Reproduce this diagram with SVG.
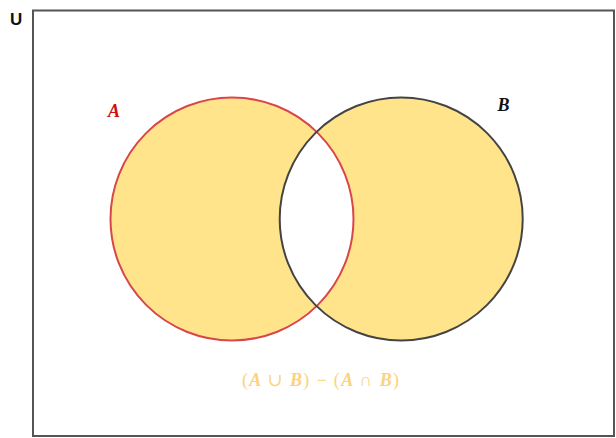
<svg xmlns="http://www.w3.org/2000/svg" width="616" height="438" viewBox="0 0 616 438">
<style>
.math{font-family:"Liberation Serif","DejaVu Serif",serif;font-style:italic;font-weight:bold;font-size:18px}
.sym{font-style:normal;font-weight:normal}
</style>
<rect width="616" height="438" fill="#ffffff"/>
<g id="universe">
<rect x="33" y="10.5" width="581" height="425.5" fill="none" stroke="#555555" stroke-width="2"/>
<text x="10" y="25" font-family="Liberation Sans, Arial, sans-serif" font-weight="bold" font-size="17" fill="#111111">U</text>
</g>
<g id="fills">
<circle cx="232" cy="219" r="121.5" fill="#ffe48c"/>
<circle cx="401.2" cy="219" r="121.5" fill="#ffe48c"/>
<path d="M316.6 131.7 A121.5 121.5 0 0 1 316.6 306.3 A121.5 121.5 0 0 1 316.6 131.7 Z" fill="#ffffff"/>
</g>
<g id="setA">
<circle cx="232" cy="219" r="121.5" fill="none" stroke="#d9464a" stroke-width="2"/>
<text class="math" x="108" y="117" fill="#cc1111">A</text>
</g>
<g id="setB">
<circle cx="401.2" cy="219" r="121.5" fill="none" stroke="#444444" stroke-width="2"/>
<text class="math" x="497.5" y="111" fill="#111111">B</text>
</g>
<g id="label">
<text class="math" x="242" y="386" textLength="157" lengthAdjust="spacing" fill="#fdd27a" font-size="21"><tspan class="sym">(</tspan>A <tspan class="sym">∪</tspan> B<tspan class="sym">) − (</tspan>A <tspan class="sym">∩</tspan> B<tspan class="sym">)</tspan></text>
</g>
</svg>
